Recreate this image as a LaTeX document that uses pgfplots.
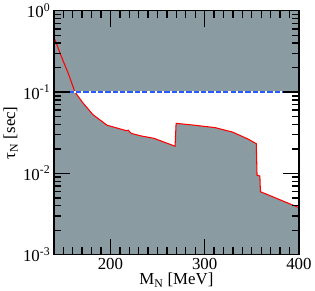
\documentclass[border=0pt]{standalone}
\usepackage{fontspec}
\setmainfont{Liberation Serif}
\usepackage{pgfplots}
\pgfplotsset{compat=1.18}
\definecolor{fillgray}{RGB}{138,156,161}
\definecolor{dashblue}{RGB}{40,90,255}
\begin{document}
\begin{tikzpicture}
\begin{axis}[scale only axis, width=233pt, height=232pt,
  xmin=140, xmax=400, ymode=log, ymin=1e-3, ymax=1, hide axis]
\addplot[fill=fillgray, draw=none] coordinates {(140,0.1)(400,0.1)(400,1)(140,1)(140,0.1)};
\addplot[fill=fillgray, draw=none] coordinates {
(141,0.447)(148,0.272)(155.6,0.166)(162.2,0.101)(170.3,0.075)(181.4,0.0529)(196.3,0.0392)
(216.7,0.0336)(218.9,0.0340)(222.2,0.0310)(233.3,0.0288)(246.3,0.027)(268.6,0.0216)
(269.7,0.0413)(288.9,0.0392)(311.1,0.0366)(329.7,0.0322)(344.4,0.027)(346.3,0.0264)
(354.8,0.0232)(355.6,0.0095)(358.6,0.0093)(359.2,0.00596)(400,0.0038)
(400,0.001)(140,0.001)(140,0.46)(141,0.447)};
\addplot[red, line width=1pt] coordinates {
(141,0.447)(148,0.272)(155.6,0.166)(162.2,0.101)(170.3,0.075)(181.4,0.0529)(196.3,0.0392)
(216.7,0.0336)(218.9,0.0340)(222.2,0.0310)(233.3,0.0288)(246.3,0.027)(268.6,0.0216)
(269.7,0.0413)(288.9,0.0392)(311.1,0.0366)(329.7,0.0322)(344.4,0.027)(346.3,0.0264)
(354.8,0.0232)(355.6,0.0095)(358.6,0.0093)(359.2,0.00596)(400,0.0038)};
\addplot[white, line width=1.2pt] coordinates {(140,0.1)(400,0.1)};
\addplot[dashblue, line width=1.2pt, dash pattern=on 5pt off 2pt] coordinates {(140,0.1)(400,0.1)};
\end{axis}
\begin{axis}[scale only axis, width=233pt, height=232pt,
  xmin=140, xmax=400, ymode=log, ymin=1e-3, ymax=1,
  axis line style={line width=1.2pt},
  major tick length=15pt,
  minor tick length=7pt,
  tick style={black, line width=1.3pt},
  xtick={200,300,400},
  minor xtick={150,160,170,180,190,210,220,230,240,250,260,270,280,290,310,320,330,340,350,360,370,380,390},
  ytick={1e-3,1e-2,1e-1,1},
  yticklabels={10\textsuperscript{-3},10\textsuperscript{-2},10\textsuperscript{-1},10\textsuperscript{0}},
  xticklabels={200,300,400},
  ticklabel style={font=\fontsize{16}{19}\selectfont},
  xlabel={M\textsubscript{N} [MeV]},
  ylabel={τ\textsubscript{N} [sec]},
  label style={font=\fontsize{16}{19}\selectfont},
  xlabel style={yshift=4pt},
  ylabel style={yshift=-2pt},
]
\end{axis}
\end{tikzpicture}
\end{document}
